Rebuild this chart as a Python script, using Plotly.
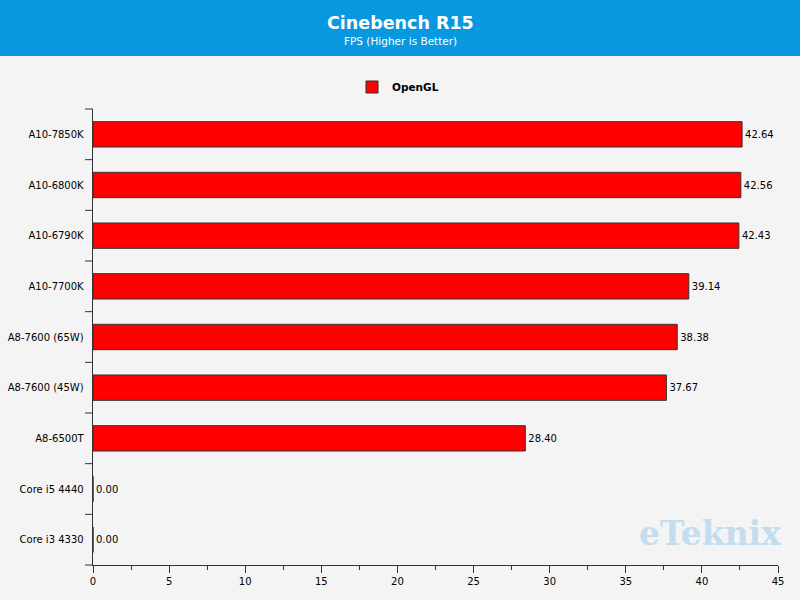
import plotly.graph_objects as go

categories = ["A10-7850K", "A10-6800K", "A10-6790K", "A10-7700K", "A8-7600 (65W)",
              "A8-7600 (45W)", "A8-6500T", "Core i5 4440", "Core i3 4330"]
values = [42.64, 42.56, 42.43, 39.14, 38.38, 37.67, 28.40, 0.00, 0.00]
x_ticks = [0, 5, 10, 15, 20, 25, 30, 35, 40, 45]

W, H = 800, 600
L, R, T, B = 93, 22, 109, 35
S = 2  # shadow offset px
pw = W - L - R        # main plot width
ph = H - T - B        # main plot height
PW = pw + S           # full domain width
PH = ph + S
dx = S / PW
dy = S / PH

font = "DejaVu Sans"
fs = 10

fig = go.Figure()
# shadow trace (drawn first, on hidden axes)
fig.add_trace(go.Bar(
    y=categories, x=values, orientation="h",
    marker=dict(color="#555555", line=dict(width=0)),
    width=0.5, xaxis="x", yaxis="y", showlegend=False, hoverinfo="skip",
))
fig.add_trace(go.Bar(
    y=categories, x=values, orientation="h", name="<b>OpenGL</b>",
    marker=dict(color="#ff0000", line=dict(color="#333333", width=1)),
    width=0.5, xaxis="x2", yaxis="y2",
    text=[f"{v:.2f}" for v in values], textposition="outside",
    textfont=dict(family=font, size=fs, color="#000000"),
    cliponaxis=False,
))

def px(x):
    return (x - L) / PW

def py(y):
    return (H - (B - S) - y) / PH

fig.update_layout(
    width=W, height=H,
    margin=dict(l=L, r=R - S, t=T, b=B - S, autoexpand=False),
    paper_bgcolor="#f4f4f4", plot_bgcolor="#f4f4f4",
    font=dict(family=font, size=fs, color="#000000"),
    barmode="overlay",
    showlegend=True,
    legend=dict(orientation="h", x=px(398), xanchor="center", y=py(87), yanchor="middle",
                font=dict(family=font, size=10.5, color="#000000"),
                bgcolor="rgba(0,0,0,0)"),
    xaxis=dict(range=[0, 45], domain=[dx, 1], visible=False, anchor="y"),
    yaxis=dict(autorange="reversed", domain=[0, 1 - dy], visible=False, anchor="x",
               categoryorder="array", categoryarray=categories),
    xaxis2=dict(range=[0, 45], domain=[0, 1 - dx], tickvals=x_ticks, showgrid=False, zeroline=False,
                showline=True, linecolor="#333333", linewidth=1,
                ticks="outside", ticklen=7, tickcolor="#333333",
                minor=dict(ticks="outside", ticklen=4, tickcolor="#333333", dtick=2.5),
                tickfont=dict(size=fs), anchor="y2", automargin=False),
    yaxis2=dict(autorange="reversed", domain=[dy, 1], showgrid=False, zeroline=False,
                showline=True, linecolor="#333333", linewidth=1,
                ticks="", ticksuffix="  ", tickfont=dict(size=fs), anchor="x2",
                categoryorder="array", categoryarray=categories, automargin=False),
)

# category boundary ticks on y axis
n = len(categories)
for i in range(n + 1):
    yv = dy + (1 - dy) * i / n
    fig.add_shape(type="line", xref="paper", yref="paper",
                  x0=-8 / PW, x1=0, y0=yv, y1=yv,
                  line=dict(color="#333333", width=1))

# header band
fig.add_shape(type="rect", xref="paper", yref="paper",
              x0=px(0), x1=px(W), y0=py(56), y1=py(0),
              fillcolor="#0898e0", line=dict(width=0), layer="below")

fig.add_annotation(text="<b>Cinebench R15</b>", xref="paper", yref="paper",
                   x=px(400), y=py(23), showarrow=False,
                   font=dict(family=font, size=17.5, color="#ffffff"),
                   xanchor="center", yanchor="middle")
fig.add_annotation(text="FPS (Higher is Better)", xref="paper", yref="paper",
                   x=px(400), y=py(41), showarrow=False,
                   font=dict(family=font, size=10.5, color="#ffffff"),
                   xanchor="center", yanchor="middle")
fig.add_annotation(text="<b>eTeknix</b>", xref="paper", yref="paper",
                   x=px(783), y=py(533), showarrow=False,
                   font=dict(family="DejaVu Serif", size=33, color="#c3ddef"),
                   xanchor="right", yanchor="middle")

fig.write_html("out.html",
               config={"displayModeBar": False},
               post_script="document.body.style.margin='0';document.body.style.overflow='hidden';")
